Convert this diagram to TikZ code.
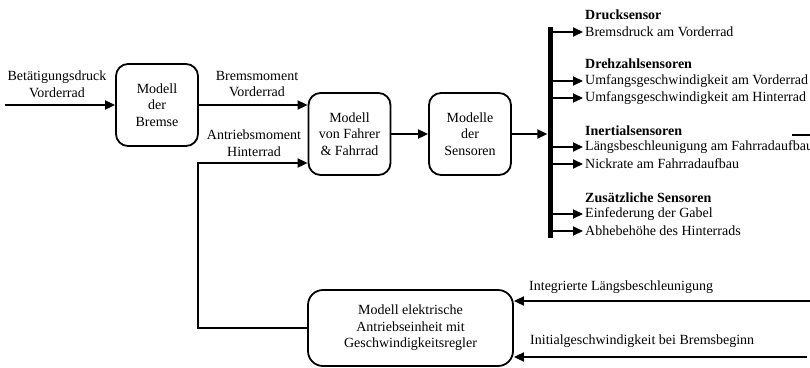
\documentclass[tikz,border=0pt]{standalone}
\usepackage{fontspec}
\setmainfont{Liberation Serif}[Ligatures=TeX]
\newfontfamily\tms{Liberation Serif}
\usetikzlibrary{arrows.meta}
\tikzset{
  ln/.style={line width=1.8pt},
  arr/.style={ln,-{Triangle[length=10pt,width=9pt]}},
  blk/.style={draw,line width=1.8pt,rounded corners=12pt,align=center,inner sep=0pt,
    font=\tms\fontsize{14}{16.5}\selectfont},
  lbl/.style={align=center,inner sep=0pt,font=\tms\fontsize{14}{16.5}\selectfont},
  sig/.style={anchor=west,inner sep=2pt,font=\tms\fontsize{14}{16.5}\selectfont},
  hdr/.style={anchor=west,inner sep=2pt,font=\tms\fontsize{14}{16.5}\selectfont\bfseries}
}
\begin{document}
\begin{tikzpicture}[x=1pt,y=-1pt]
\useasboundingbox (0,0) rectangle (810,367);
% blocks
\node[blk,minimum width=82pt,minimum height=82pt] (bremse) at (157,105) {Modell\\der\\Bremse};
\node[blk,minimum width=82pt,minimum height=82pt] (fahrer) at (349.5,134) {Modell\\von Fahrer\\\& Fahrrad};
\node[blk,minimum width=82pt,minimum height=82pt] (sens) at (470,134) {Modelle\\der\\Sensoren};
\node[blk,minimum width=205pt,minimum height=76pt,rounded corners=15pt] (antrieb) at (410.5,328)
  {Modell elektrische\\Antriebseinheit mit\\Geschwindigkeitsregler};
% bar
\node[fill,minimum width=5pt,minimum height=211pt,inner sep=0pt] (bar) at (550,132.5) {};
% labels
\node[lbl] (lbet) at (57,84) {Betätigungsdruck\\Vorderrad};
\node[lbl] (lbrm) at (257,84) {Bremsmoment\\Vorderrad};
\node[lbl] (lanm) at (254,143) {Antriebsmoment\\Hinterrad};
\node[lbl,anchor=west] (lint) at (529,287) {Integrierte Längsbeschleunigung};
\node[lbl,anchor=west] (lini) at (530,341) {Initialgeschwindigkeit bei Bremsbeginn};
% sensor texts
\node[hdr] (h1) at (583,15) {Drucksensor};
\node[sig] (s1) at (583,32) {Bremsdruck am Vorderrad};
\node[hdr] (h2) at (583,64) {Drehzahlsensoren};
\node[sig] (s2) at (583,81) {Umfangsgeschwindigkeit am Vorderrad};
\node[sig] (s3) at (583,98) {Umfangsgeschwindigkeit am Hinterrad};
\node[hdr] (h3) at (583,131) {Inertialsensoren};
\node[sig] (s4) at (583,147) {Längsbeschleunigung am Fahrradaufbau};
\node[sig] (s5) at (583,164) {Nickrate am Fahrradaufbau};
\node[hdr] (h4) at (583,198) {Zusätzliche Sensoren};
\node[sig] (s6) at (583,214) {Einfederung der Gabel};
\node[sig] (s7) at (583,231) {Abhebehöhe des Hinterrads};
% coordinates
\coordinate (in0) at (5,105);
\coordinate (fb) at (198,163);
\coordinate (ilb) at (810,301);
\coordinate (ivb) at (807,357);
\coordinate (d1) at (792,135);
\coordinate (d2) at (810,135);
% connectors
\draw[arr] (in0) -- (bremse.west);
\draw[arr] (bremse.east) -- (fahrer.west |- bremse.east);
\draw[arr] (antrieb.west) -| (fb) -- (fahrer.west |- fb);
\draw[arr] (fahrer.east) -- (sens.west);
\draw[arr] (sens.east) -- (bar.west |- sens.east);
\foreach \s in {s1,s2,s3,s4,s5,s6,s7}
  \draw[arr] (bar.east |- \s.west) -- (\s.west);
\draw[arr] (ilb) -- (antrieb.east |- ilb);
\draw[arr] (ivb) -- (antrieb.east |- ivb);
\draw[ln] (d1) -- (d2);
\end{tikzpicture}
\end{document}
